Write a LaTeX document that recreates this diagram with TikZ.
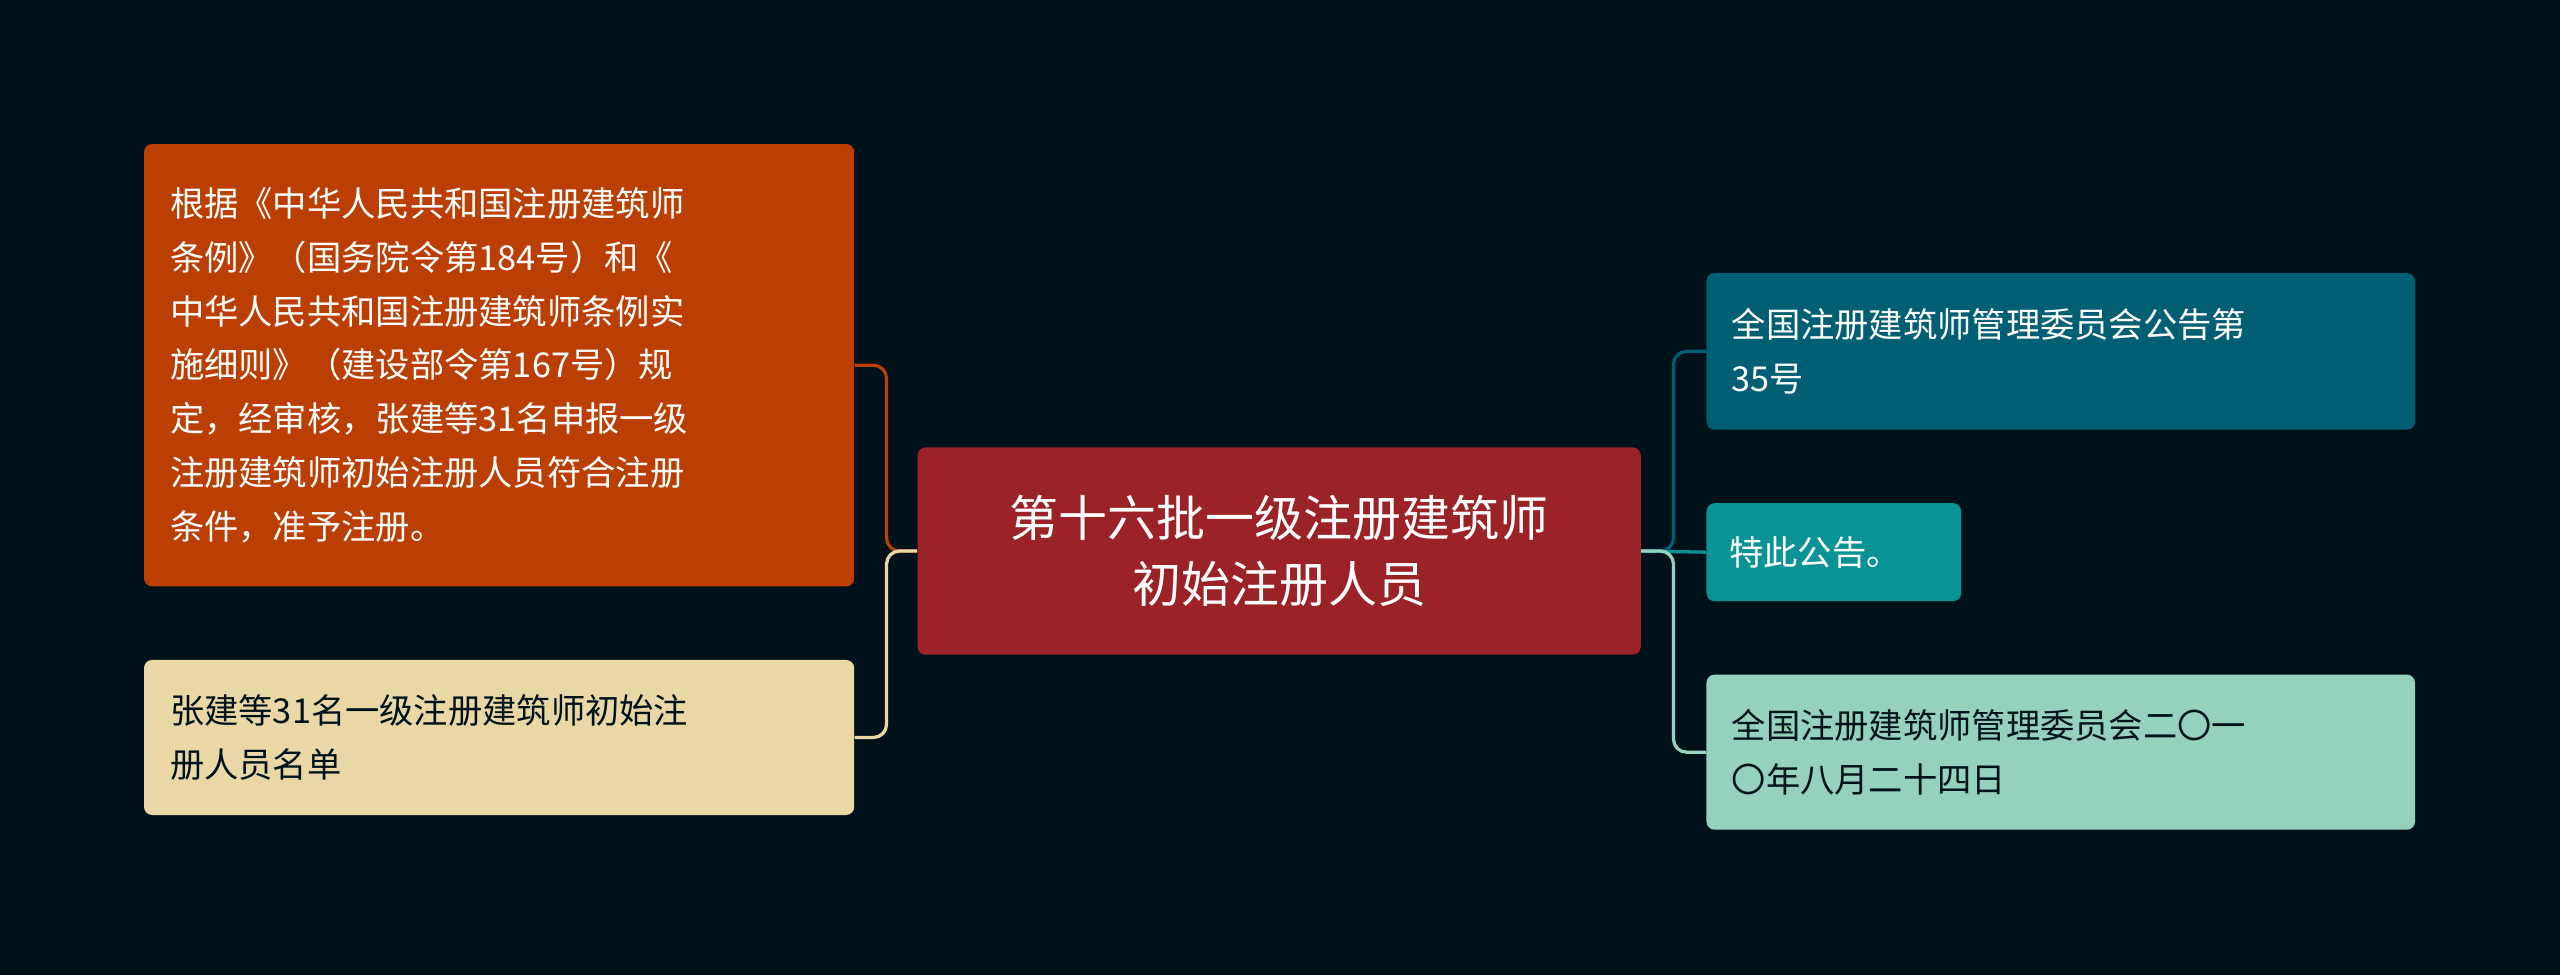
\documentclass[tikz,border=0pt]{standalone}
\usepackage{fontspec}
\setmainfont{Noto Sans CJK SC}
\begin{document}
\begin{tikzpicture}[x=1pt,y=-1pt,
  box/.style={rounded corners=5pt,inner sep=0pt,align=left,anchor=north west},
  small/.style={font=\fontsize{21}{33}\selectfont}]
\definecolor{bg}{HTML}{001219}
\definecolor{cred}{HTML}{9B2226}
\definecolor{corg}{HTML}{BB3E03}
\definecolor{ccrm}{HTML}{E9D8A6}
\definecolor{cdt}{HTML}{005F73}
\definecolor{ctl}{HTML}{0A9396}
\definecolor{cmt}{HTML}{94D2BD}
\fill[bg] (0,0) rectangle (1568,597);
\useasboundingbox (0,0) rectangle (1568,597);
\node[box,fill=cred,minimum width=443,minimum height=127,text=white,align=center,font=\fontsize{30}{40}\selectfont,anchor=center] (c) at (783.5,337.5) {第十六批一级注册建筑师\\初始注册人员};
\node[box,fill=corg,minimum width=435,minimum height=271,text=white,small] (a) at (88,88) {\hspace*{12pt}\parbox[c][271pt][c]{415pt}{根据《中华人民共和国注册建筑师\\条例》（国务院令第184号）和《\\中华人民共和国注册建筑师条例实\\施细则》（建设部令第167号）规\\定，经审核，张建等31名申报一级\\注册建筑师初始注册人员符合注册\\条件，准予注册。}};
\node[box,fill=ccrm,minimum width=435,minimum height=95,text=bg,small] (b) at (88,404) {\hspace*{12pt}\parbox[c][95pt][c]{415pt}{张建等31名一级注册建筑师初始注\\册人员名单}};
\node[box,fill=cdt,minimum width=434,minimum height=96,text=white,small] (r1) at (1045,167) {\hspace*{12pt}\parbox[c][96pt][c]{415pt}{全国注册建筑师管理委员会公告第\\35号}};
\node[box,fill=ctl,minimum width=156,minimum height=60,text=white,small] (r2) at (1045,308) {\hspace*{12pt}\parbox[c][60pt][c]{140pt}{特此公告。}};
\node[box,fill=cmt,minimum width=434,minimum height=95,text=bg,small] (r3) at (1045,413) {\hspace*{12pt}\parbox[c][95pt][c]{415pt}{全国注册建筑师管理委员会二〇一\\〇年八月二十四日}};
\draw[corg,line width=2pt,rounded corners=8pt] (c.west) -- (543,337.5) |- (a.east);
\draw[ccrm,line width=2pt,rounded corners=8pt] (c.west) -- (543,337.5) |- (b.east);
\draw[cdt,line width=2pt,rounded corners=8pt] (c.east) -- (1025,337.5) |- (r1.west);
\draw[ctl,line width=2pt] (c.east) -- (r2.west);
\draw[cmt,line width=2pt,rounded corners=8pt] (c.east) -- (1025,337.5) |- (r3.west);
\end{tikzpicture}
\end{document}
